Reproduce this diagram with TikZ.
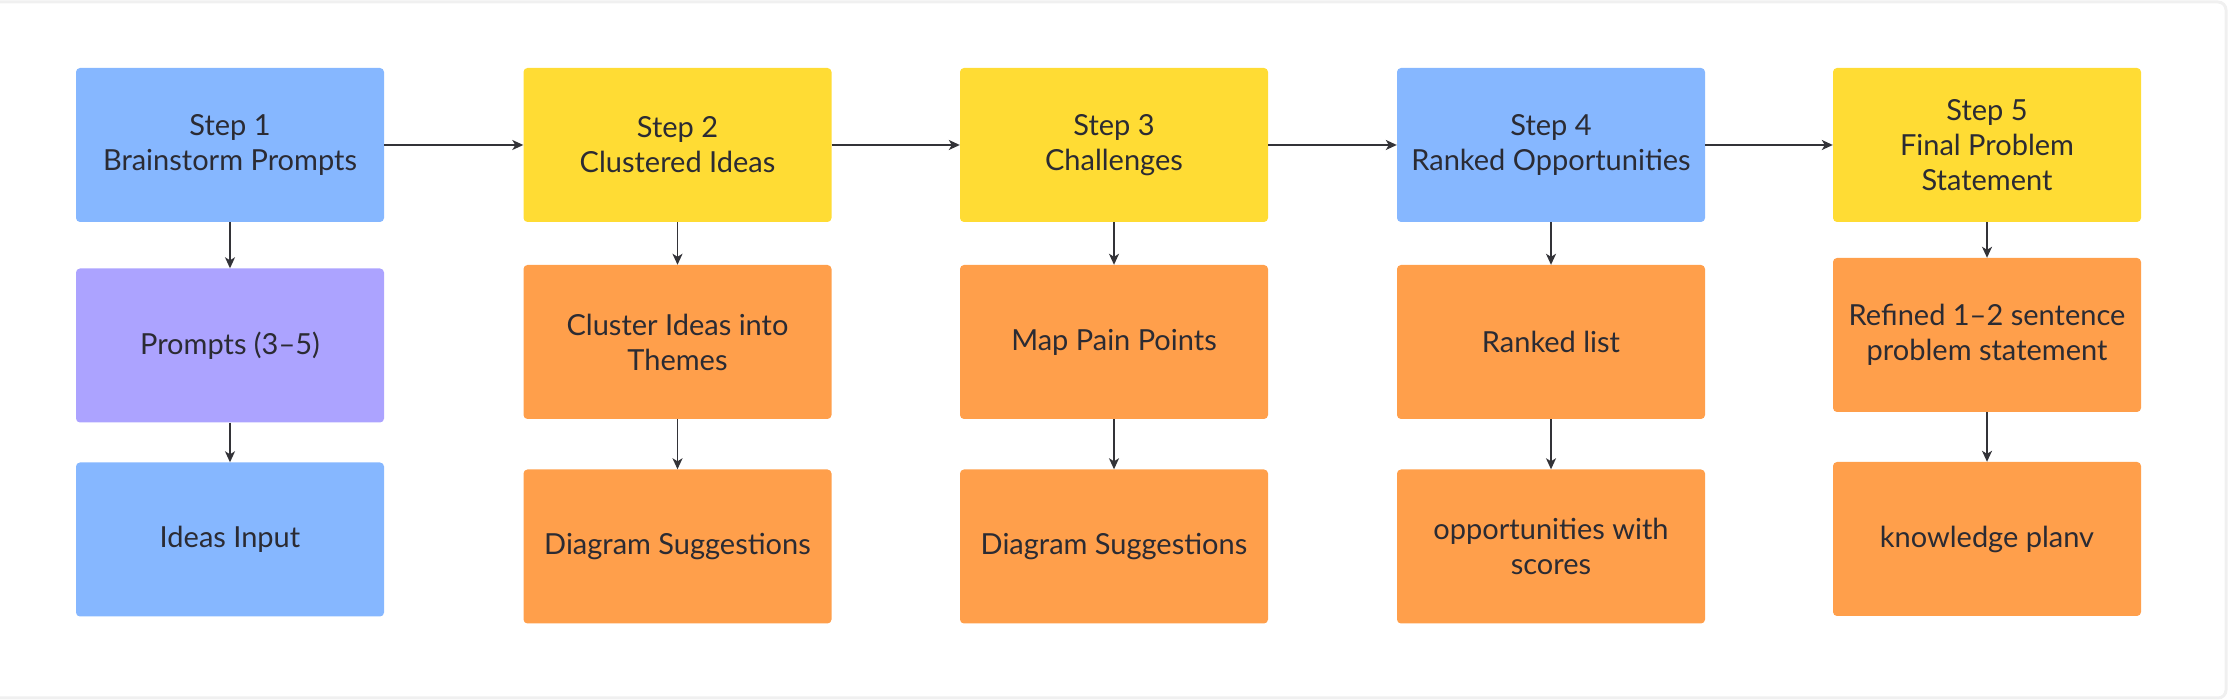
\documentclass[tikz,border=0pt]{standalone}
\usepackage{fontspec}
\setmainfont{Lato}
\usetikzlibrary{arrows.meta}
\definecolor{stepblue}{HTML}{86B7FF}
\definecolor{stepyellow}{HTML}{FFDC34}
\definecolor{steppurple}{HTML}{ACA3FF}
\definecolor{steporange}{HTML}{FF9F4B}
\definecolor{inktext}{HTML}{2B2B33}
\definecolor{inkline}{HTML}{333338}
\tikzset{
  stepbox/.style={rectangle, rounded corners=4, minimum width=308, minimum height=154,
    align=center, text=inktext, font=\fontsize{29}{35}\selectfont},
  arr/.style={draw=inkline, line width=1.6, -{Stealth[length=11, width=10, inset=3]}}
}
\begin{document}
\begin{tikzpicture}[x=1pt,y=1pt]
\useasboundingbox (0,0) rectangle (2229,700);
\draw[gray!12, line width=3, rounded corners=8] (-12,2) rectangle (2226,698);
\node[stepbox, fill=stepblue] (s1) at (230,555) {Step 1\\Brainstorm Prompts};
\node[stepbox, fill=steppurple] (p1) at (230,354.5) {Prompts (3–5)};
\node[stepbox, fill=stepblue] (q1) at (230,160.5) {Ideas Input};
\node[stepbox, fill=stepyellow] (s2) at (677.5,555) {Step 2\\Clustered Ideas};
\node[stepbox, fill=steporange] (p2) at (677.5,358) {Cluster Ideas into\\Themes};
\node[stepbox, fill=steporange] (q2) at (677.5,153.5) {Diagram Suggestions};
\node[stepbox, fill=stepyellow] (s3) at (1114,555) {Step 3\\Challenges};
\node[stepbox, fill=steporange] (p3) at (1114,358) {Map Pain Points};
\node[stepbox, fill=steporange] (q3) at (1114,153.5) {Diagram Suggestions};
\node[stepbox, fill=stepblue] (s4) at (1551,555) {Step 4\\Ranked Opportunities};
\node[stepbox, fill=steporange] (p4) at (1551,358) {Ranked list};
\node[stepbox, fill=steporange] (q4) at (1551,153.5) {opportunities with\\scores};
\node[stepbox, fill=stepyellow] (s5) at (1987,555) {Step 5\\Final Problem\\Statement};
\node[stepbox, fill=steporange] (p5) at (1987,365) {Refined 1–2 sentence\\problem statement};
\node[stepbox, fill=steporange] (q5) at (1987,161) {knowledge planv};
% main flow
\draw[arr] (s1) -- (s2);
\draw[arr] (s2) -- (s3);
\draw[arr] (s3) -- (s4);
\draw[arr] (s4) -- (s5);
% columns
\foreach \i in {1,...,5} {
  \draw[arr] (s\i) -- (p\i);
  \draw[arr] (p\i) -- (q\i);
}
\end{tikzpicture}
\end{document}
